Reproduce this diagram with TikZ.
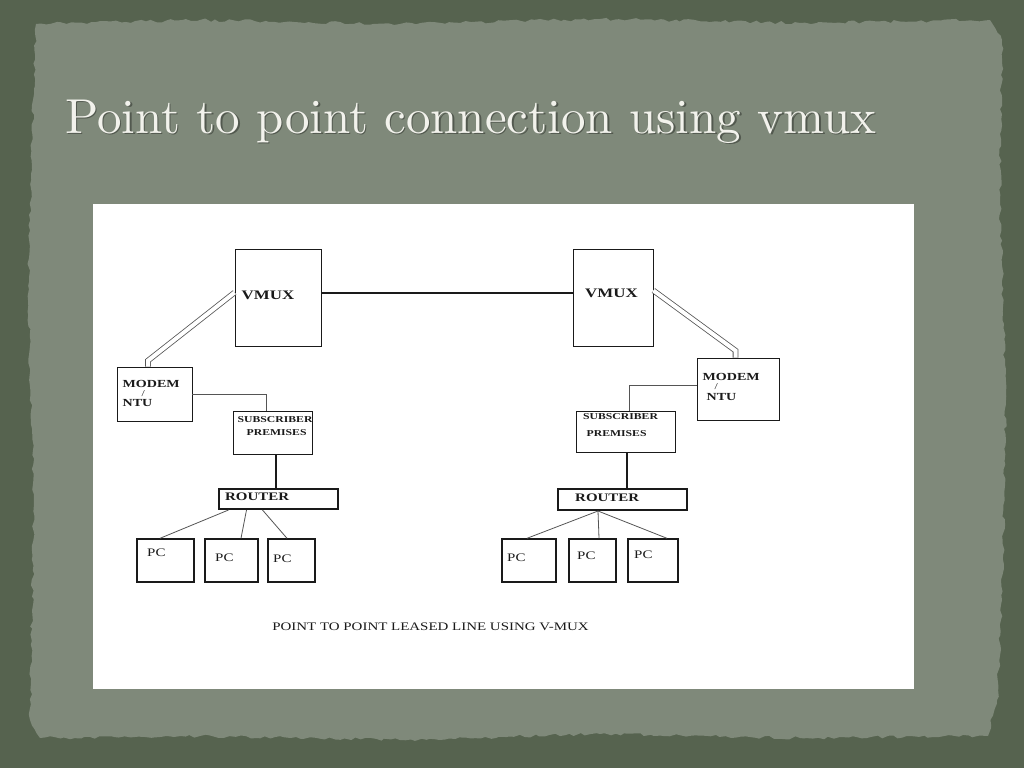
\documentclass[tikz,border=0pt]{standalone}
\usepackage{fontspec}
\usetikzlibrary{decorations.pathmorphing}
\newfontfamily\labfont[FakeStretch=1.3]{Liberation Serif}
\newfontfamily\titlefont[Extension=.otf]{lmroman10-regular}
\definecolor{outerbg}{HTML}{56634F}
\definecolor{paper}{HTML}{7F897A}
\definecolor{titlecol}{HTML}{F2F2EC}
\definecolor{ink}{HTML}{1A1A1A}
\definecolor{thinink}{HTML}{555555}
\tikzset{
  box/.style={draw=ink, line width=0.8pt, fill=white, inner sep=0pt},
  routerbox/.style={box, line width=2pt},
  pcbox/.style={box, line width=1.4pt},
  lab/.style={inner sep=0pt, anchor=west, text=ink, font=\labfont\bfseries},
  reglab/.style={inner sep=0pt, anchor=west, text=ink, font=\labfont},
  thinline/.style={draw=thinink, line width=0.8pt},
  heavyline/.style={draw=ink, line width=2pt},
  vline/.style={draw=ink, line width=2.6pt},
  dblline/.style={draw=thinink, line width=0.8pt, double=white, double distance=4pt},
  titletext/.style={anchor=base west, inner sep=0pt, font=\titlefont\fontsize{49}{54}\selectfont},
}
\begin{document}
\begin{tikzpicture}[x=1pt,y=-1pt]
\useasboundingbox (0,0) rectangle (1024,768);
\fill[outerbg] (0,0) rectangle (1024,768);
\pgfmathsetseed{7}
\fill[paper, decorate, decoration={random steps, segment length=5pt, amplitude=1.6pt}]
  (36,24) -- (200,20) -- (400,24) -- (600,19) -- (800,23) -- (990,20) -- (1002,40)
  -- (1000,200) -- (1006,400) -- (1002,600) -- (997,700) -- (988,736) -- (800,738)
  -- (600,734) -- (400,740) -- (200,736) -- (40,738) -- (30,720) -- (34,500)
  -- (28,300) -- (33,100) -- cycle;
% title
\node[titletext, text=black, opacity=0.35] (titleshadow) at (66.5,134.5) {Point to point connection using vmux};
\node[titletext, text=titlecol] (title) at (65,133) {Point to point connection using vmux};
% white panel
\fill[white] (93,204) rectangle (914,689);
% boxes
\node[box, minimum width=86, minimum height=97] (lvmux) at (278,297.5) {};
\node[box, minimum width=80, minimum height=97] (rvmux) at (613,297.5) {};
\node[box, minimum width=75, minimum height=54] (lmodem) at (154.5,394) {};
\node[box, minimum width=82, minimum height=62] (rmodem) at (738,389) {};
\node[box, minimum width=79, minimum height=43] (lsub) at (272.5,432.5) {};
\node[box, minimum width=99, minimum height=41] (rsub) at (625.5,431.5) {};
\node[routerbox, minimum width=119, minimum height=20] (lrouter) at (278.5,499) {};
\node[routerbox, minimum width=129, minimum height=21] (rrouter) at (622.5,499.5) {};
\node[pcbox, minimum width=57, minimum height=43] (lpc1) at (165.5,560.5) {};
\node[pcbox, minimum width=53, minimum height=43] (lpc2) at (231.5,560.5) {};
\node[pcbox, minimum width=47, minimum height=43] (lpc3) at (291.5,560.5) {};
\node[pcbox, minimum width=54, minimum height=43] (rpc1) at (529,560.5) {};
\node[pcbox, minimum width=47, minimum height=43] (rpc2) at (592.5,560.5) {};
\node[pcbox, minimum width=50, minimum height=43] (rpc3) at (653,560.5) {};
% labels
\node[lab, font=\labfont\bfseries\fontsize{13}{14}\selectfont] (lvmuxt) at (241.5,295) {VMUX};
\node[lab, font=\labfont\bfseries\fontsize{13}{14}\selectfont] (rvmuxt) at (585,293) {VMUX};
\node[lab, font=\labfont\bfseries\fontsize{10.8}{12}\selectfont] (lmodemt) at (122.5,384) {MODEM};
\node[reglab, font=\labfont\fontsize{9}{10}\selectfont] (lslash) at (141.5,393.5) {/};
\node[lab, font=\labfont\bfseries\fontsize{10.8}{12}\selectfont] (lntut) at (122.5,403) {NTU};
\node[lab, font=\labfont\bfseries\fontsize{10.8}{12}\selectfont] (rmodemt) at (702.5,377) {MODEM};
\node[reglab, font=\labfont\fontsize{9}{10}\selectfont] (rslash) at (714.5,386.5) {/};
\node[lab, font=\labfont\bfseries\fontsize{10.8}{12}\selectfont] (rntut) at (706.5,397) {NTU};
\node[lab, font=\labfont\bfseries\fontsize{9}{10}\selectfont] (lsubt) at (237.5,420) {SUBSCRIBER};
\node[lab, font=\labfont\bfseries\fontsize{9}{10}\selectfont] (lpremt) at (246.5,433) {PREMISES};
\node[lab, font=\labfont\bfseries\fontsize{9}{10}\selectfont] (rsubt) at (583,417) {SUBSCRIBER};
\node[lab, font=\labfont\bfseries\fontsize{9}{10}\selectfont] (rpremt) at (586.5,434) {PREMISES};
\node[lab, font=\labfont\bfseries\fontsize{11.5}{13}\selectfont] (lroutert) at (225,497) {ROUTER};
\node[lab, font=\labfont\bfseries\fontsize{11.5}{13}\selectfont] (rroutert) at (575,498) {ROUTER};
\foreach \n/\x/\y in {lpc1t/147/553, lpc2t/215/558, lpc3t/273/559, rpc1t/507/558, rpc2t/577/556, rpc3t/634/555}
  \node[reglab, font=\labfont\fontsize{11.5}{13}\selectfont] (\n) at (\x,\y) {PC};
\node[inner sep=0pt, text=ink, font=\labfont\fontsize{11.5}{13}\selectfont] (caption) at (430.5,627) {POINT TO POINT LEASED LINE USING V-MUX};
% connectors
\draw[heavyline] ([yshift=4.5pt]lvmux.east) -- ([yshift=4.5pt]rvmux.west);
\draw[dblline] ([yshift=5pt]lvmux.west) -- ([xshift=-6.5pt,yshift=6pt]lmodem.north) -- ([xshift=-6.5pt]lmodem.north);
\draw[dblline] ([yshift=7pt]rvmux.east) -- ([xshift=-2.5pt,yshift=7pt]rmodem.north) -- ([xshift=-2.5pt]rmodem.north);
\draw[thinline] (lmodem.east) -| ([xshift=-6.5pt]lsub.north);
\draw[thinline] ([yshift=3.5pt]rmodem.west) -| ([xshift=3.5pt]rsub.north);
\coordinate (ls) at ([xshift=3.5pt]lsub.south);
\coordinate (rs) at ([xshift=1.5pt]rsub.south);
\draw[vline] (ls) -- (ls |- lrouter.north);
\draw[vline] (rs) -- (rs |- rrouter.north);
\draw[thinline] ([xshift=-50pt]lrouter.south) -- ([xshift=-5.5pt]lpc1.north);
\draw[thinline] ([xshift=-32pt]lrouter.south) -- ([xshift=9.5pt]lpc2.north);
\draw[thinline] ([xshift=-16pt]lrouter.south) -- ([xshift=-4.5pt]lpc3.north);
\draw[thinline] ([xshift=-24.5pt]rrouter.south) -- ([xshift=-2pt]rpc1.north);
\draw[thinline] ([xshift=-24.5pt]rrouter.south) -- ([xshift=6.5pt]rpc2.north);
\draw[thinline] ([xshift=-24.5pt]rrouter.south) -- ([xshift=14pt]rpc3.north);
\end{tikzpicture}
\end{document}
